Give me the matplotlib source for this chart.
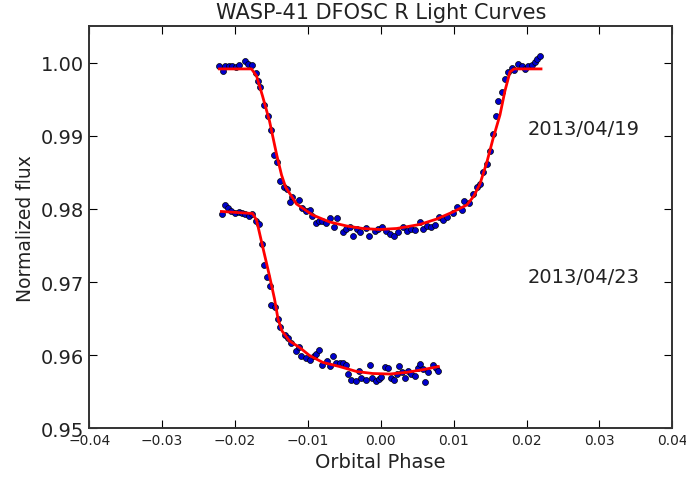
import numpy as np
import matplotlib.pyplot as plt

# Light curve 2013/04/19: orbital phase and normalized flux
phase_19 = [-0.02213, -0.02168, -0.02131, -0.02085, -0.02038, -0.01984, -0.01938,
            -0.01865, -0.01824, -0.01764, -0.01718, -0.01681, -0.01654, -0.01595,
            -0.01549, -0.01502, -0.01471, -0.01420, -0.01388, -0.01333, -0.01282,
            -0.01214, -0.01241, -0.01123, -0.01076, -0.01021, -0.00966, -0.00939,
            -0.00893, -0.00848, -0.00801, -0.00756, -0.00691, -0.00646, -0.00601,
            -0.00518, -0.00481, -0.00426, -0.00381, -0.00326, -0.00279, -0.00206,
            -0.00161, -0.00082, -0.00037, 0.00023, 0.00078, 0.00124, 0.00179,
            0.00238, 0.00307, 0.00362, 0.00422, 0.00467, 0.00536, 0.00581,
            0.00636, 0.00683, 0.00742, 0.00801, 0.00856, 0.00911, 0.00986,
            0.01049, 0.01109, 0.01141, 0.01214, 0.01260, 0.01315, 0.01361,
            0.01406, 0.01461, 0.01498, 0.01535, 0.01581, 0.01612, 0.01659,
            0.01704, 0.01750, 0.01797, 0.01832, 0.01887, 0.01934, 0.01979,
            0.02025, 0.02071, 0.02117, 0.02148, 0.02186]
flux_19 = [0.99955, 0.99886, 0.99955, 0.99955, 0.99963, 0.99949, 0.99973,
           1.00032, 0.99986, 0.99977, 0.99863, 0.99758, 0.99667, 0.99429,
           0.99278, 0.99082, 0.98744, 0.98640, 0.98379, 0.98305, 0.98274,
           0.98168, 0.98092, 0.98123, 0.98010, 0.97977, 0.97986, 0.97908,
           0.97804, 0.97840, 0.97832, 0.97804, 0.97877, 0.97758, 0.97877,
           0.97681, 0.97726, 0.97758, 0.97626, 0.97726, 0.97681, 0.97736,
           0.97634, 0.97703, 0.97726, 0.97758, 0.97695, 0.97658, 0.97634,
           0.97681, 0.97758, 0.97695, 0.97726, 0.97712, 0.97821, 0.97726,
           0.97771, 0.97758, 0.97784, 0.97886, 0.97849, 0.97895, 0.97941,
           0.98023, 0.97986, 0.98105, 0.98078, 0.98205, 0.98297, 0.98342,
           0.98511, 0.98616, 0.98799, 0.99027, 0.99278, 0.99484, 0.99599,
           0.99781, 0.99881, 0.99927, 0.99908, 0.99986, 0.99955, 0.99918,
           0.99955, 0.99973, 1.00018, 1.00055, 1.00092]

# Light curve 2013/04/23 (shifted down by 0.02)
phase_23 = [-0.02176, -0.02131, -0.02099, -0.02052, -0.01993, -0.01948, -0.01901,
            -0.01856, -0.01810, -0.01764, -0.01718, -0.01673, -0.01626, -0.01608,
            -0.01563, -0.01526, -0.01502, -0.01447, -0.01412, -0.01379, -0.01320,
            -0.01274, -0.01227, -0.01168, -0.01123, -0.01090, -0.01031, -0.00976,
            -0.00921, -0.00884, -0.00848, -0.00801, -0.00738, -0.00701, -0.00656,
            -0.00609, -0.00564, -0.00518, -0.00481, -0.00449, -0.00403, -0.00344,
            -0.00298, -0.00265, -0.00197, -0.00151, -0.00114, -0.00069, -0.00023,
            0.00010, 0.00055, 0.00100, 0.00147, 0.00179, 0.00224, 0.00252,
            0.00298, 0.00330, 0.00375, 0.00422, 0.00467, 0.00513, 0.00536,
            0.00581, 0.00605, 0.00650, 0.00711, 0.00756, 0.00788]
flux_23 = [0.97932, 0.98055, 0.98010, 0.97977, 0.97945, 0.97955, 0.97945,
           0.97932, 0.97908, 0.97932, 0.97840, 0.97795, 0.97521, 0.97233,
           0.97064, 0.96941, 0.96685, 0.96653, 0.96493, 0.96379, 0.96274,
           0.96229, 0.96164, 0.96059, 0.96105, 0.95990, 0.95955, 0.95936,
           0.95990, 0.96014, 0.96073, 0.95863, 0.95922, 0.95845, 0.95990,
           0.95890, 0.95890, 0.95890, 0.95863, 0.95740, 0.95662, 0.95649,
           0.95785, 0.95681, 0.95662, 0.95863, 0.95681, 0.95649, 0.95671,
           0.95695, 0.95832, 0.95818, 0.95681, 0.95662, 0.95740, 0.95845,
           0.95763, 0.95681, 0.95785, 0.95740, 0.95716, 0.95818, 0.95877,
           0.95808, 0.95634, 0.95763, 0.95863, 0.95818, 0.95785]

# Best-fit transit models
model_phase_19 = [-0.02213, -0.01773, -0.01704, -0.01622, -0.01526, -0.01430,
                  -0.01361, -0.01306, -0.01155, -0.00935, -0.00701, -0.00467,
                  -0.00247, -0.00014, 0.00220, 0.00536, 0.00770, 0.00990,
                  0.01182, 0.01278, 0.01361, 0.01457, 0.01540, 0.01636,
                  0.01704, 0.01773, 0.01828, 0.02199]
model_flux_19 = [0.99918, 0.99918, 0.99822, 0.99548, 0.99205, 0.98753,
                 0.98466, 0.98301, 0.98068, 0.97918, 0.97822, 0.97767,
                 0.97733, 0.97719, 0.97733, 0.97788, 0.97863, 0.97959,
                 0.98055, 0.98178, 0.98342, 0.98644, 0.98959, 0.99288,
                 0.99616, 0.99877, 0.99918, 0.99918]

model_phase_23 = [-0.02186, -0.01759, -0.01704, -0.01622, -0.01526, -0.01457,
                  -0.01409, -0.01354, -0.01251, -0.01113, -0.00976, -0.00797,
                  -0.00564, -0.00330, -0.00110, 0.00124, 0.00357, 0.00577,
                  0.00790]
model_flux_23 = [0.97966, 0.97938, 0.97849, 0.97493, 0.97082, 0.96767,
                 0.96493, 0.96329, 0.96192, 0.96103, 0.95993, 0.95900,
                 0.95842, 0.95774, 0.95747, 0.95740, 0.95763, 0.95799,
                 0.95842]

fig = plt.figure(figsize=(6.86, 4.81), dpi=100)
ax = fig.add_axes([0.130, 0.108, 0.850, 0.835])

ax.plot(phase_19, flux_19, 'o', color='#0000cc', markeredgecolor='black',
        markeredgewidth=0.5, markersize=4.3, zorder=2)
ax.plot(phase_23, flux_23, 'o', color='#0000cc', markeredgecolor='black',
        markeredgewidth=0.5, markersize=4.3, zorder=2)
ax.plot(model_phase_19, model_flux_19, '-', color='red', linewidth=2, zorder=3)
ax.plot(model_phase_23, model_flux_23, '-', color='red', linewidth=2, zorder=3)

ax.text(0.0201, 0.99096, '2013/04/19', fontsize=14, va='center', color='#222222')
ax.text(0.0201, 0.97082, '2013/04/23', fontsize=14, va='center', color='#222222')

ax.set_xlim(-0.04, 0.04)
ax.set_ylim(0.95, 1.005)
ax.set_xticks(np.arange(-0.04, 0.0401, 0.01))
ax.set_yticks(np.arange(0.95, 1.0001, 0.01))
ax.tick_params(axis='x', labelsize=10, direction='in', top=True, length=6,
               labelcolor='#222222')
ax.tick_params(axis='y', labelsize=14, direction='in', right=True, length=6,
               labelcolor='#222222')
for s in ax.spines.values():
    s.set_linewidth(1.4)
    s.set_color('#333333')

ax.set_title('WASP-41 DFOSC R Light Curves', fontsize=15, color='#222222')
ax.set_xlabel('Orbital Phase', fontsize=14, color='#222222')
ax.set_ylabel('Normalized flux', fontsize=13.5, color='#222222')

fig.savefig('out.png', dpi=100)
